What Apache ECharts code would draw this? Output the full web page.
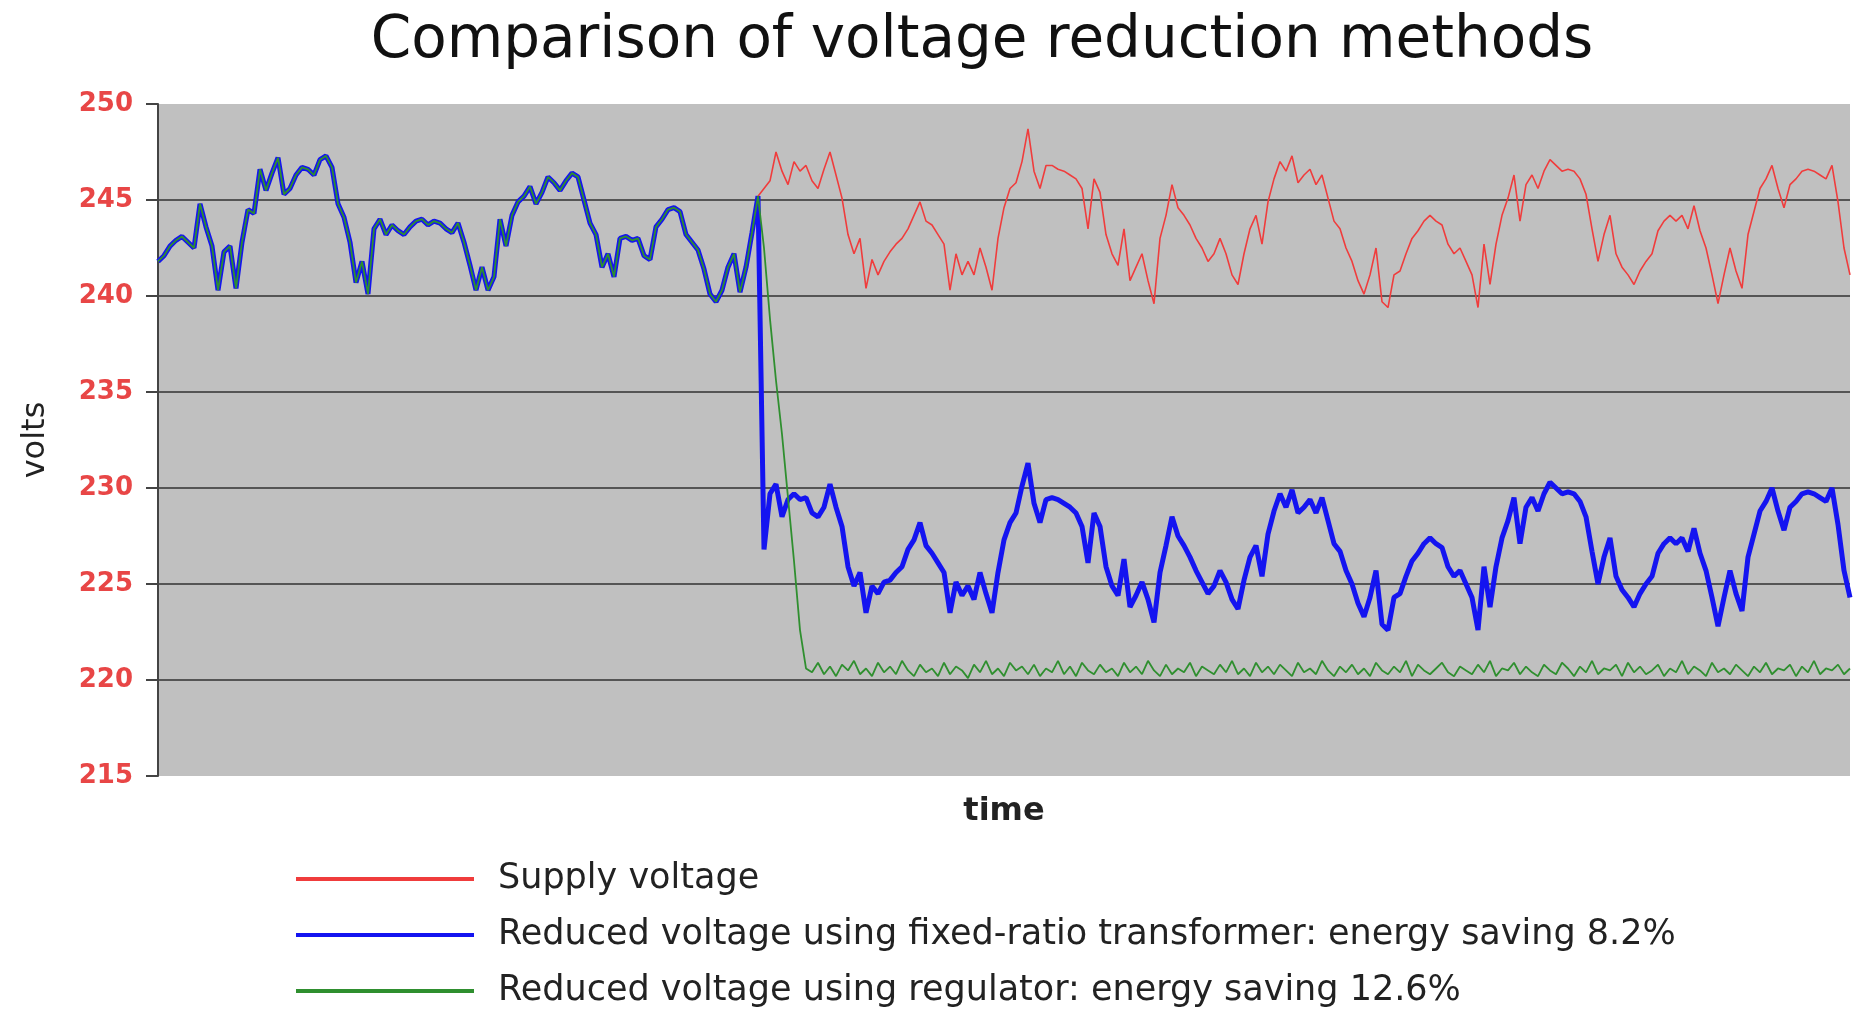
<!DOCTYPE html>
<html>
<head>
<meta charset="utf-8">
<title>Comparison of voltage reduction methods</title>
<script src="https://cdn.jsdelivr.net/npm/echarts@6/dist/echarts.min.js"></script>
<style>
  html, body { margin: 0; padding: 0; background: #fff; }
  #chart { width: 1858px; height: 1011px; }
</style>
</head>
<body>
<div id="chart"></div>
<script>
// before the switch-over all three traces are the same supply
var shared = [
  241.8, 242.1, 242.6, 242.9, 243.1, 242.8, 242.5, 244.8, 243.6, 242.6,
  240.3, 242.3, 242.6, 240.4, 242.8, 244.5, 244.3, 246.6, 245.5, 246.4,
  247.2, 245.3, 245.6, 246.3, 246.7, 246.6, 246.3, 247.1, 247.3, 246.7,
  244.8, 244.1, 242.8, 240.7, 241.8, 240.1, 243.5, 244.0, 243.2, 243.7,
  243.4, 243.2, 243.6, 243.9, 244.0, 243.7, 243.9, 243.8, 243.5, 243.3,
  243.8, 242.8, 241.6, 240.3, 241.5, 240.3, 241.0, 244.0, 242.6, 244.2,
  244.9, 245.2, 245.7, 244.8, 245.4, 246.2, 245.9, 245.5, 246.0, 246.4,
  246.2, 245.0, 243.8, 243.2, 241.5, 242.2, 241.0, 243.0, 243.1, 242.9,
  243.0, 242.1, 241.9, 243.6, 244.0, 244.5, 244.6, 244.4, 243.2, 242.8,
  242.4, 241.4, 240.1, 239.7, 240.3, 241.5, 242.2, 240.2, 241.5, 243.3,
  245.2
];

var supplyAfter = [
  245.6, 246.0, 247.5, 246.5, 245.8, 247.0, 246.5, 246.8, 246.0, 245.6,
  246.6, 247.5, 246.3, 245.1, 243.2, 242.2, 243.0, 240.4, 241.9, 241.1,
  241.8, 242.3, 242.7, 243.0, 243.5, 244.2, 244.9, 243.9, 243.7, 243.2,
  242.7, 240.3, 242.2, 241.1, 241.8, 241.1, 242.5, 241.5, 240.3, 243.0,
  244.6, 245.6, 245.9, 247.0, 248.7, 246.5, 245.6, 246.8, 246.8, 246.6,
  246.5, 246.3, 246.1, 245.6, 243.5, 246.1, 245.4, 243.2, 242.2, 241.6,
  243.5, 240.8, 241.5, 242.2, 240.8, 239.6, 243.0, 244.2, 245.8, 244.6,
  244.2, 243.7, 243.0, 242.5, 241.8, 242.2, 243.0, 242.2, 241.1, 240.6,
  242.2, 243.5, 244.2, 242.7, 244.9, 246.1, 247.0, 246.5, 247.3, 245.9,
  246.3, 246.6, 245.8, 246.3, 245.1, 243.9, 243.5, 242.5, 241.8, 240.8,
  240.1, 241.1, 242.5, 239.7, 239.4, 241.1, 241.3, 242.2, 243.0, 243.4,
  243.9, 244.2, 243.9, 243.7, 242.7, 242.2, 242.5, 241.8, 241.1, 239.4,
  242.7, 240.6, 242.7, 244.2, 245.1, 246.3, 243.9, 245.8, 246.3, 245.6,
  246.5, 247.1, 246.8, 246.5, 246.6, 246.5, 246.1, 245.3, 243.5, 241.8,
  243.2, 244.2, 242.2, 241.5, 241.1, 240.6, 241.3, 241.8, 242.2, 243.4,
  243.9, 244.2, 243.9, 244.2, 243.5, 244.7, 243.4, 242.5, 241.1, 239.6,
  241.1, 242.5, 241.3, 240.4, 243.2, 244.4, 245.6, 246.1, 246.8, 245.6,
  244.6, 245.8, 246.1, 246.5, 246.6, 246.5, 246.3, 246.1, 246.8, 244.9,
  242.5, 241.1
];

var fixedAfter = [
  226.8, 229.7, 230.2, 228.5, 229.4, 229.7, 229.4, 229.5, 228.7, 228.5,
  229.0, 230.2, 229.0, 228.0, 225.9, 224.9, 225.6, 223.5, 224.9, 224.5,
  225.1, 225.2, 225.6, 225.9, 226.8, 227.3, 228.2, 227.0, 226.6, 226.1,
  225.6, 223.5, 225.1, 224.4, 224.9, 224.2, 225.6, 224.5, 223.5, 225.6,
  227.3, 228.2, 228.7, 230.1, 231.3, 229.2, 228.2, 229.4, 229.5, 229.4,
  229.2, 229.0, 228.7, 228.0, 226.1, 228.7, 228.0, 225.9, 224.9, 224.4,
  226.3, 223.8, 224.4, 225.1, 224.2, 223.0, 225.6, 227.0, 228.5, 227.5,
  227.0, 226.4, 225.7, 225.1, 224.5, 224.9, 225.7, 225.1, 224.2, 223.7,
  225.2, 226.4, 227.0, 225.4, 227.6, 228.8, 229.7, 229.0, 229.9, 228.7,
  229.0, 229.4, 228.7, 229.5, 228.3, 227.1, 226.7, 225.7, 225.0, 224.0,
  223.3, 224.3, 225.7, 222.9, 222.6, 224.3, 224.5, 225.4, 226.2, 226.6,
  227.1, 227.4, 227.1, 226.9, 225.9, 225.4, 225.7, 225.0, 224.3, 222.6,
  225.9, 223.8, 225.9, 227.4, 228.3, 229.5, 227.1, 229.0, 229.5, 228.8,
  229.7, 230.3, 230.0, 229.7, 229.8, 229.7, 229.3, 228.5, 226.7, 225.0,
  226.4, 227.4, 225.4, 224.7, 224.3, 223.8, 224.5, 225.0, 225.4, 226.6,
  227.1, 227.4, 227.1, 227.4, 226.7, 227.9, 226.6, 225.7, 224.3, 222.8,
  224.3, 225.7, 224.5, 223.6, 226.4, 227.6, 228.8, 229.3, 230.0, 228.8,
  227.8, 229.0, 229.3, 229.7, 229.8, 229.7, 229.5, 229.3, 230.0, 228.1,
  225.7, 224.3
];

var regulatorAfter = [
  242.5, 238.8, 235.6, 232.8, 229.5, 226.2, 222.6, 220.6,
  220.4, 220.9, 220.3, 220.7, 220.2, 220.8, 220.5, 221.0, 220.3, 220.6,
  220.2, 220.9, 220.4, 220.7, 220.3, 221.0, 220.5, 220.2, 220.8, 220.4,
  220.6, 220.2, 220.9, 220.3, 220.7, 220.5, 220.1, 220.8, 220.4, 221.0,
  220.3, 220.6, 220.2, 220.9, 220.5, 220.7, 220.3, 220.8, 220.2, 220.6,
  220.4, 221.0, 220.3, 220.7, 220.2, 220.9, 220.5, 220.3, 220.8, 220.4,
  220.6, 220.2, 220.9, 220.4, 220.7, 220.3, 221.0, 220.5, 220.2, 220.8,
  220.3, 220.6, 220.4, 220.9, 220.2, 220.7, 220.5, 220.3, 220.8, 220.4,
  221.0, 220.3, 220.6, 220.2, 220.9, 220.4, 220.7, 220.3, 220.8, 220.5,
  220.2, 220.9, 220.4, 220.6, 220.3, 221.0, 220.5, 220.2, 220.7, 220.4,
  220.8, 220.3, 220.6, 220.2, 220.9, 220.5, 220.3, 220.7, 220.4, 221.0,
  220.2, 220.8, 220.5, 220.3, 220.6, 220.9, 220.4, 220.2, 220.7, 220.5,
  220.3, 220.8, 220.4, 221.0, 220.2, 220.6, 220.5, 220.9, 220.3, 220.7,
  220.4, 220.2, 220.8, 220.5, 220.3, 220.9, 220.6, 220.2, 220.7, 220.4,
  221.0, 220.3, 220.6, 220.5, 220.8, 220.2, 220.9, 220.4, 220.7, 220.3,
  220.5, 220.8, 220.2, 220.6, 220.4, 221.0, 220.3, 220.7, 220.5, 220.2,
  220.9, 220.4, 220.6, 220.3, 220.8, 220.5, 220.2, 220.7, 220.4, 220.9,
  220.3, 220.6, 220.5, 220.8, 220.2, 220.7, 220.4, 221.0, 220.3, 220.6,
  220.5, 220.8, 220.3, 220.6
];

var yTicks = [215, 250, 5]; // min, max, step

var seriesNames = [
  'Supply voltage',
  'Reduced voltage using fixed-ratio transformer: energy saving 8.2%',
  'Reduced voltage using regulator: energy saving 12.6%'
];

var supply = shared.concat(supplyAfter);
var fixedRatio = shared.concat(fixedAfter);
var regulated = shared.concat(regulatorAfter);
var times = supply.map(function (v, i) { return i; });

var chart = echarts.init(document.getElementById('chart'));

chart.setOption({
  animation: false,
  backgroundColor: '#ffffff',
  title: {
    text: 'Comparison of voltage reduction methods',
    left: 977,
    textAlign: 'center',
    top: 8,
    textStyle: {
      fontFamily: 'DejaVu Sans',
      fontSize: 58,
      fontWeight: 'normal',
      color: '#111'
    }
  },
  legend: {
    orient: 'vertical',
    left: 296,
    top: 861,
    padding: 0,
    icon: 'rect',
    itemWidth: 178,
    itemHeight: 4,
    itemGap: 20,
    data: seriesNames,
    textStyle: {
      fontFamily: 'DejaVu Sans',
      fontSize: 35,
      color: '#222',
      lineHeight: 36,
      padding: [0, 0, 0, 19]
    }
  },
  grid: {
    left: 158,
    right: 8,
    top: 104,
    bottom: 235,
    show: true,
    backgroundColor: '#c0c0c0',
    borderWidth: 0
  },
  xAxis: {
    type: 'category',
    data: times,
    boundaryGap: false,
    name: 'time',
    nameLocation: 'middle',
    nameGap: 20,
    nameTextStyle: {
      fontFamily: 'DejaVu Sans',
      fontSize: 32,
      fontWeight: 'bold',
      color: '#222'
    },
    axisLine: { show: false },
    axisTick: { show: false },
    axisLabel: { show: false },
    splitLine: { show: false }
  },
  yAxis: {
    type: 'value',
    min: yTicks[0],
    max: yTicks[1],
    interval: yTicks[2],
    name: 'volts',
    nameLocation: 'middle',
    nameRotate: 90,
    nameGap: 106,
    nameTextStyle: {
      fontFamily: 'DejaVu Sans',
      fontSize: 32,
      color: '#222'
    },
    axisLine: { show: true, lineStyle: { color: '#444', width: 2 } },
    axisTick: { show: true, length: 12, lineStyle: { color: '#444', width: 2 } },
    axisLabel: {
      margin: 25,
      fontFamily: 'DejaVu Sans',
      fontSize: 26,
      fontWeight: 'bold',
      color: '#e84646'
    },
    splitLine: {
      show: true,
      showMinLine: false,
      showMaxLine: false,
      lineStyle: { color: '#555', width: 2 }
    }
  },
  series: [
    {
      name: seriesNames[0],
      type: 'line',
      data: supply,
      symbol: 'none',
      color: '#f03c3c',
      lineStyle: { width: 1.6, color: '#f03c3c' }
    },
    {
      name: seriesNames[1],
      type: 'line',
      data: fixedRatio,
      symbol: 'none',
      color: '#1414f0',
      lineStyle: { width: 5, color: '#1414f0' }
    },
    {
      name: seriesNames[2],
      type: 'line',
      data: regulated,
      symbol: 'none',
      color: '#2f8f2f',
      lineStyle: { width: 1.8, color: '#2f8f2f' }
    }
  ]
});
</script>
</body>
</html>
